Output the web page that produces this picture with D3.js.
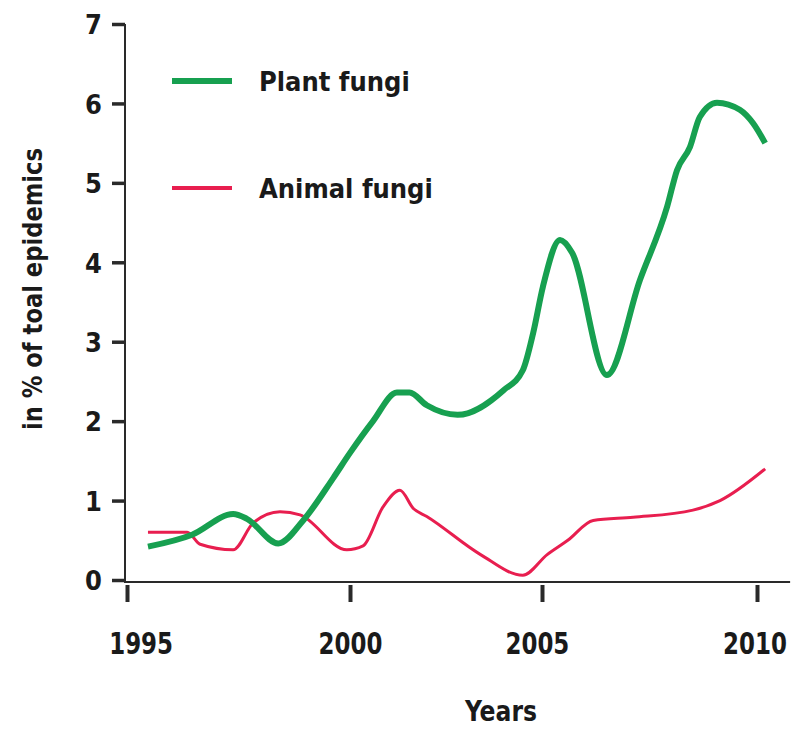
<!DOCTYPE html>
<html>
<head>
<meta charset="utf-8">
<script src="https://cdn.jsdelivr.net/npm/d3@7"></script>
<style>
  html, body { margin: 0; padding: 0; background: #fff; }
  svg text { font-family: "DejaVu Sans Condensed", "DejaVu Sans", sans-serif; font-stretch: condensed; font-weight: bold; fill: #1a1a1a; }
</style>
</head>
<body>
<svg id="chart" width="795" height="731"></svg>
<script>
// ---- data ----
const yearTicks = [1995, 2000, 2005, 2010];
const valueTicks = [0, 1, 2, 3, 4, 5, 6, 7];
const seriesNames = ["Plant fungi", "Animal fungi"];
const seriesColors = ["#17a050", "#e81e4f"];

const plantYears  = [1995.47, 1996.46, 1997.38, 1997.69, 1998.39, 1998.95, 1999.62, 2000.0, 2000.6, 2001.22, 2001.55, 2002.0, 2002.8, 2004.0, 2004.5, 2004.77, 2005.02, 2005.42, 2005.7, 2006.51, 2007.28, 2007.91, 2008.14, 2008.44, 2008.67, 2009.07, 2009.6, 2009.91, 2010.19];
const plantValues = [0.42, 0.57, 0.83, 0.77, 0.46, 0.75, 1.28, 1.6, 2.0, 2.36, 2.36, 2.2, 2.08, 2.39, 2.64, 3.11, 3.69, 4.28, 4.12, 2.58, 3.78, 4.7, 5.16, 5.45, 5.83, 6.01, 5.92, 5.75, 5.5];

const animalYears  = [1995.47, 1996.35, 1996.64, 1997.38, 1997.83, 1998.43, 1998.88, 1999.93, 2000.34, 2000.86, 2001.3, 2001.65, 2002.0, 2003.4, 2004.5, 2005.12, 2005.6, 2006.19, 2007.12, 2008.51, 2009.14, 2010.19];
const animalValues = [0.6, 0.6, 0.45, 0.38, 0.72, 0.86, 0.82, 0.38, 0.43, 0.92, 1.13, 0.9, 0.8, 0.32, 0.06, 0.32, 0.5, 0.75, 0.79, 0.88, 1.0, 1.4];

// ---- layout ----
const svg = d3.select("#chart");
const x = d3.scaleLinear().domain(yearTicks).range([127, 350, 542, 757]);
const y = d3.scaleLinear().domain([0, 7]).range([580, 24]);

const axisColor = "#2a2a2a";

// Y axis
const yAxis = svg.append("g")
  .attr("transform", `translate(${x(1995) - 2},0)`)
  .call(d3.axisLeft(y).tickValues(valueTicks).tickFormat(d3.format("d")).tickSizeInner(13).tickSizeOuter(0).tickPadding(10));
yAxis.select(".domain").remove();
yAxis.selectAll(".tick line").attr("stroke", axisColor).attr("stroke-width", 3.5);
yAxis.selectAll(".tick text").style("font-size", "27px").attr("dy", "0.36em").attr("fill", "#1a1a1a");
svg.append("line")
  .attr("x1", x(1995) - 2).attr("x2", x(1995) - 2)
  .attr("y1", y(7)).attr("y2", y(0) + 2)
  .attr("stroke", axisColor).attr("stroke-width", 2);

// X axis
const xAxis = svg.append("g")
  .attr("transform", `translate(0,${y(0) + 2})`)
  .call(d3.axisBottom(x).tickValues(yearTicks).tickFormat(d3.format("d")).tickSizeInner(20).tickSizeOuter(0).tickPadding(31));
xAxis.select(".domain").remove();
xAxis.selectAll(".tick line").attr("stroke", axisColor).attr("stroke-width", 4).attr("y1", 3);
xAxis.selectAll(".tick text").style("font-size", "30px").attr("fill", "#1a1a1a")
  .attr("transform", "scale(0.85,1)")
  .attr("dx", d => d === 1995 ? 16 : (d === 2005 ? -6 : (d === 2010 ? -3 : 0)));
svg.append("line")
  .attr("x1", x(1995) - 3).attr("x2", x(2010.77))
  .attr("y1", y(0) + 2).attr("y2", y(0) + 2)
  .attr("stroke", axisColor).attr("stroke-width", 2);

// Axis titles
svg.append("text")
  .attr("transform", `translate(42,${289}) rotate(-90)`)
  .attr("text-anchor", "middle")
  .attr("textLength", 282).attr("lengthAdjust", "spacingAndGlyphs")
  .style("font-size", "27px")
  .text("in % of toal epidemics");
svg.append("text")
  .attr("x", 501).attr("y", 721)
  .attr("text-anchor", "middle")
  .attr("textLength", 72).attr("lengthAdjust", "spacingAndGlyphs")
  .style("font-size", "29px")
  .text("Years");

// Lines
const line = d3.line()
  .x(d => x(d[0]))
  .y(d => y(d[1]))
  .curve(d3.curveMonotoneX);

const plantData = plantYears.map((yr, i) => [yr, plantValues[i]]);
const animalData = animalYears.map((yr, i) => [yr, animalValues[i]]);

svg.append("path")
  .datum(animalData)
  .attr("d", line)
  .attr("fill", "none")
  .attr("stroke", seriesColors[1])
  .attr("stroke-width", 3)
  .attr("stroke-linejoin", "round");

svg.append("path")
  .datum(plantData)
  .attr("d", line)
  .attr("fill", "none")
  .attr("stroke", seriesColors[0])
  .attr("stroke-width", 6)
  .attr("stroke-linejoin", "round")
  .attr("stroke-linecap", "butt");

// Legend
const legend = svg.append("g");
const legendRows = [ {ly: 81, w: 6}, {ly: 188, w: 4} ];
seriesNames.forEach((name, i) => {
  const row = legendRows[i];
  legend.append("line")
    .attr("x1", 172).attr("x2", 232)
    .attr("y1", row.ly).attr("y2", row.ly)
    .attr("stroke", seriesColors[i]).attr("stroke-width", row.w);
  legend.append("text")
    .attr("x", 259).attr("y", row.ly + 10)
    .style("font-size", "27px")
    .text(name);
});
</script>
</body>
</html>
